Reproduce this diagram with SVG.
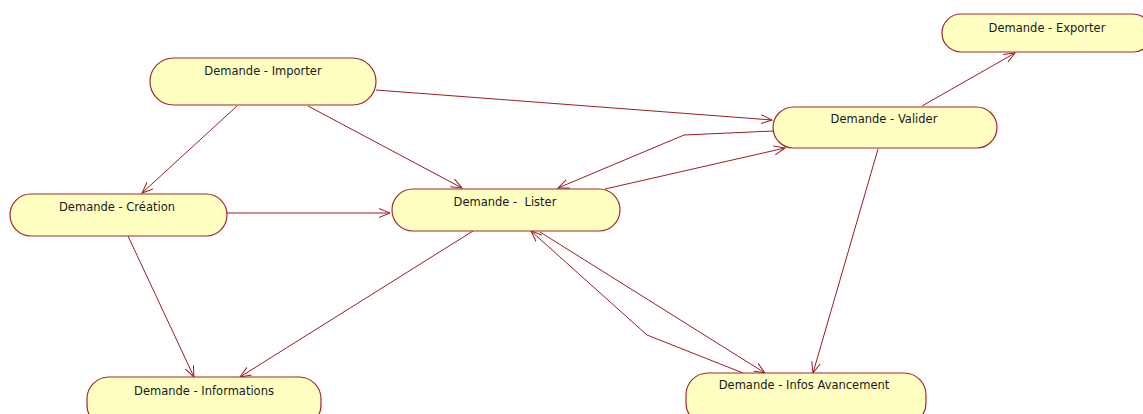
<svg xmlns="http://www.w3.org/2000/svg" width="1143" height="414" viewBox="0 0 1143 414">
<style>
.n{fill:#FFFFC2;stroke:#A0282D;stroke-width:1.2}
.t{font-family:"DejaVu Sans",Verdana,sans-serif;font-size:11.5px;fill:#1a1a1a;text-anchor:middle}
.c{fill:none;stroke:#9B1C22;stroke-width:1;marker-end:url(#a)}
</style>
<defs>
<marker id="a" markerWidth="12" markerHeight="10" refX="11" refY="5" orient="auto" markerUnits="userSpaceOnUse">
<path d="M0,0.5 L11,5 L0,9.5" fill="none" stroke="#9B1C22" stroke-width="1"/>
</marker>
</defs>
<rect width="1143" height="414" fill="#ffffff"/>
<g id="connectors">
<path class="c" d="M376,90 L772,120"/>
<path class="c" d="M237,106 L142,193"/>
<path class="c" d="M308,106 L462,188"/>
<path class="c" d="M227,213 L390,213"/>
<path class="c" d="M773,131 L684,135 L558,188"/>
<path class="c" d="M605,189 L785,148"/>
<path class="c" d="M922,106 L1015,53"/>
<path class="c" d="M878,149 L813,373"/>
<path class="c" d="M128,236 L194,377"/>
<path class="c" d="M473,231 L240,377"/>
<path class="c" d="M540,232 L765,373"/>
<path class="c" d="M743,373 L647,335 L531,231"/>
</g>
<g id="importer"><rect class="n" x="150" y="58" width="226" height="47" rx="23.5"/><text class="t" x="263" y="75">Demande - Importer</text></g>
<g id="creation"><rect class="n" x="10" y="194" width="217" height="42" rx="21"/><text class="t" x="117" y="211">Demande - Création</text></g>
<g id="lister"><rect class="n" x="392" y="189" width="228" height="42" rx="21"/><text class="t" x="505" y="206" xml:space="preserve">Demande -  Lister</text></g>
<g id="valider"><rect class="n" x="773" y="107" width="224" height="41" rx="20.5"/><text class="t" x="884" y="123">Demande - Valider</text></g>
<g id="exporter"><rect class="n" x="942" y="14" width="210" height="38" rx="19"/><text class="t" x="1047" y="32">Demande - Exporter</text></g>
<g id="informations"><rect class="n" x="87" y="377" width="234" height="50" rx="22"/><text class="t" x="204" y="395">Demande - Informations</text></g>
<g id="avancement"><rect class="n" x="686" y="373" width="240" height="52" rx="22"/><text class="t" x="804" y="389">Demande - Infos Avancement</text></g>
</svg>
